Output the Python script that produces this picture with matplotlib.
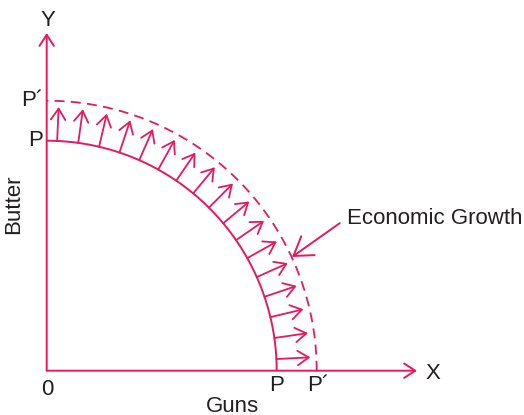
import numpy as np
import matplotlib
matplotlib.use("Agg")
import matplotlib.pyplot as plt

# ---- data (production possibility frontiers) ----
inner_intercept = 4.6      # P  (original PPF intercept)
outer_intercept = 5.4      # P' (shifted PPF intercept)
arrow_angles_deg = np.linspace(2.9, 87.4, 17)   # shift arrows along the curve
axis_labels = ["Guns", "Butter"]
point_labels = ["P", "P´"]

PINK = "#E8185E"
TXT = "#231F20"
FONT = "Liberation Sans"

fig = plt.figure(figsize=(5.24, 4.15), dpi=100)
ax = fig.add_axes([0, 0, 1, 1])
S = 50.0  # px per unit
ox, oy = 46.7, 370.7
ax.set_xlim(-ox / S, (524 - ox) / S)
ax.set_ylim(-(415 - oy) / S, oy / S)
ax.set_aspect("equal")
ax.axis("off")

def px(x, y):
    return ((x - ox) / S, (oy - y) / S)

HEAD = "->,head_length=0.8,head_width=0.52"

# axes with arrows
ax.annotate("", xy=(0, (oy - 33) / S), xytext=(0, 0),
            arrowprops=dict(arrowstyle=HEAD, color=PINK, lw=1.4,
                            shrinkA=0, shrinkB=0))
ax.annotate("", xy=((417 - ox) / S, 0), xytext=(0, 0),
            arrowprops=dict(arrowstyle=HEAD, color=PINK, lw=1.4,
                            shrinkA=0, shrinkB=0))

t = np.linspace(0, np.pi / 2, 300)
ax.plot(inner_intercept * np.cos(t), inner_intercept * np.sin(t),
        color=PINK, lw=1.4, solid_capstyle="butt")
ax.plot(outer_intercept * np.cos(t), outer_intercept * np.sin(t),
        color=PINK, lw=1.3, dashes=(5.5, 3.5))

# shift arrows
tip_r = inner_intercept + 0.68
for a in np.deg2rad(arrow_angles_deg):
    ax.annotate("", xy=(tip_r * np.cos(a), tip_r * np.sin(a)),
                xytext=(inner_intercept * np.cos(a), inner_intercept * np.sin(a)),
                arrowprops=dict(arrowstyle=HEAD, color=PINK, lw=1.3,
                                shrinkA=0, shrinkB=0))

fs = 16
kw = dict(color=TXT, fontsize=fs, family=FONT)
ax.text(*px(48, 20), "Y", ha="center", va="center", **kw)
ax.text(*px(433, 373), "X", ha="center", va="center", **kw)
ax.text(*px(47, 389), "0", ha="center", va="center", **kw)
ax.text(*px(232, 406), axis_labels[0], ha="center", va="center", **kw)
ax.text(*px(14, 204), axis_labels[1], ha="center", va="center", rotation=90, **kw)
ax.text(*px(43, 140), point_labels[0], ha="right", va="center", **kw)
ax.text(*px(43, 100), point_labels[1], ha="right", va="center", **kw)
ax.text(inner_intercept, (oy - 385) / S, point_labels[0], ha="center", va="center", **kw)
ax.text(outer_intercept + 0.04, (oy - 385) / S, point_labels[1], ha="center", va="center", **kw)

ax.annotate("Economic Growth", xy=px(292, 257), xytext=px(347, 218),
            ha="left", va="center", **kw,
            arrowprops=dict(arrowstyle=HEAD, color=PINK, lw=1.4,
                            shrinkA=4, shrinkB=0, relpos=(0, 0.5)))

fig.savefig("out.png", dpi=100)
